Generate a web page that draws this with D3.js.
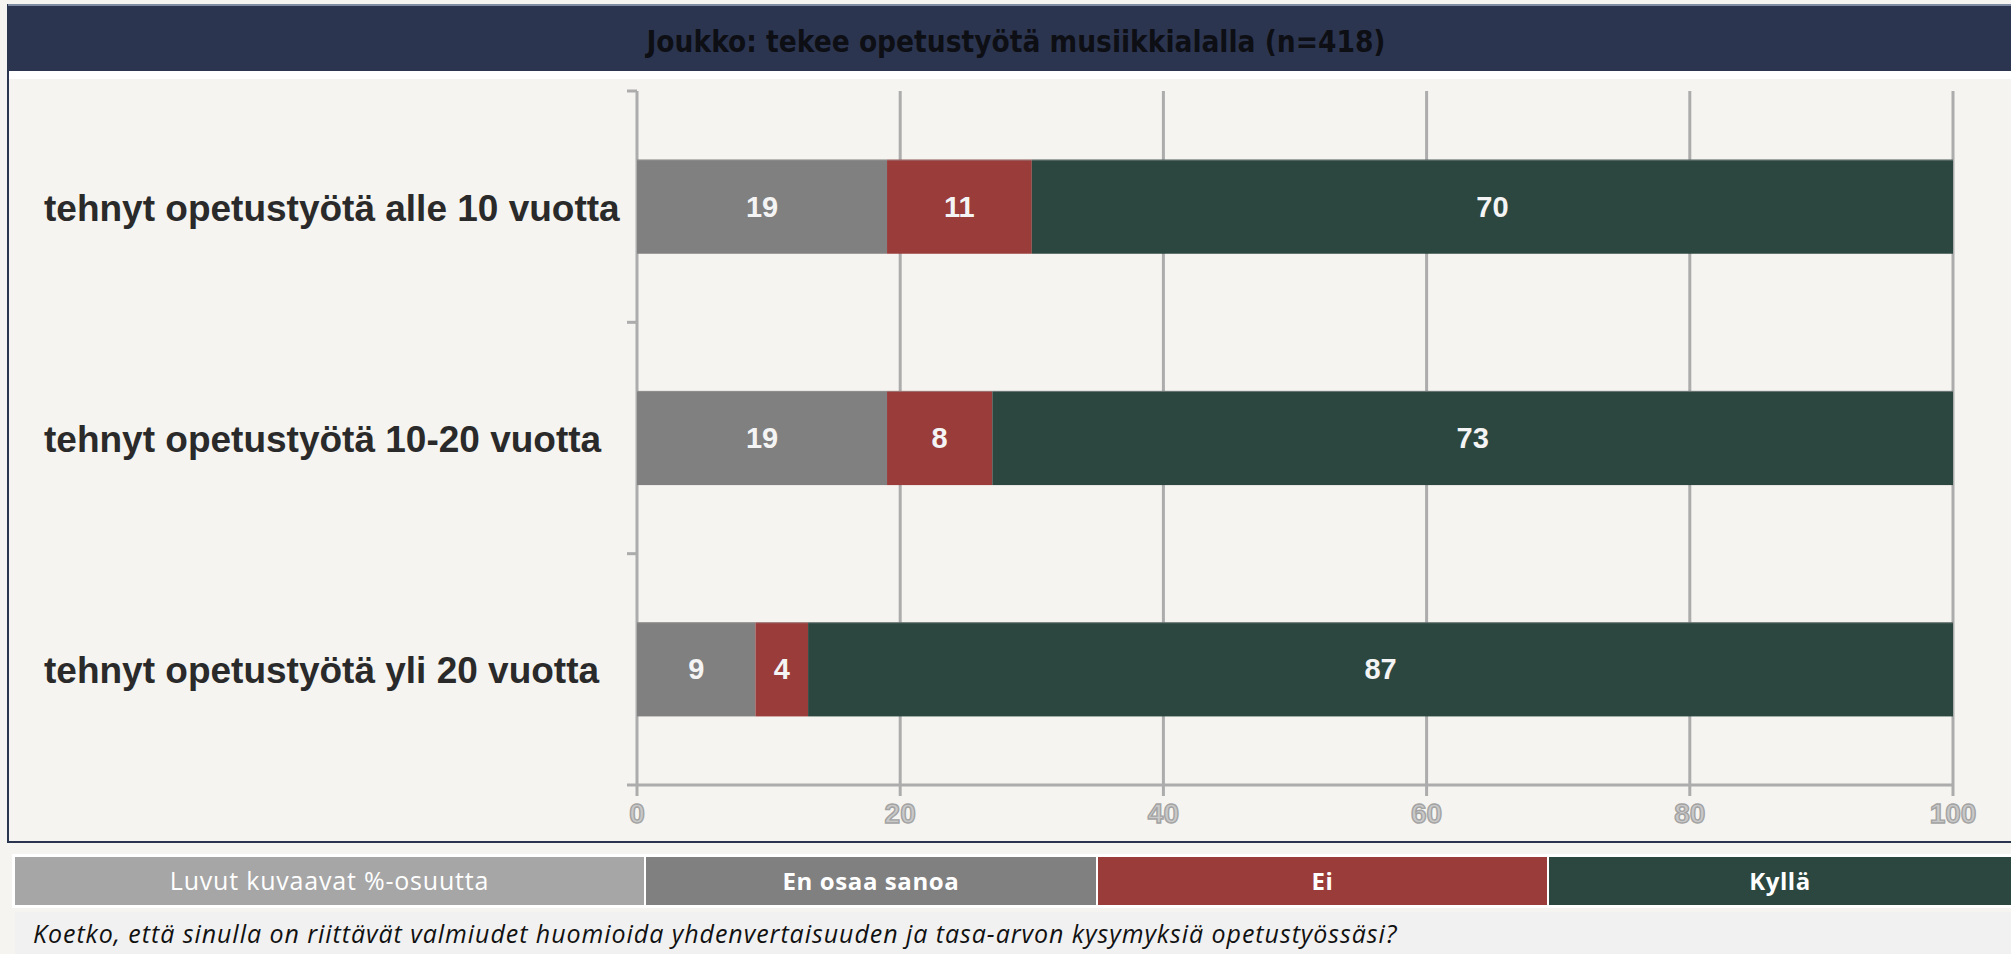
<!DOCTYPE html>
<html><head><meta charset="utf-8">
<script src="https://cdn.jsdelivr.net/npm/d3@7"></script>
<style>
html,body{margin:0;padding:0;background:#f5f4f0;}
svg{display:block;}
</style></head>
<body>
<svg id="chart" width="2011" height="954"></svg>
<script>
const title = "Joukko: tekee opetustyötä musiikkialalla (n=418)";
const categories = ["tehnyt opetustyötä alle 10 vuotta","tehnyt opetustyötä 10-20 vuotta","tehnyt opetustyötä yli 20 vuotta"];
const seriesNames = ["En osaa sanoa","Ei","Kyllä"];
const enOsaaSanoa = [19,19,9];
const ei = [11,8,4];
const kylla = [70,73,87];
const xTicks = [0,20,40,60,80,100];
const legendNote = "Luvut kuvaavat %-osuutta";
const question = "Koetko, että sinulla on riittävät valmiudet huomioida yhdenvertaisuuden ja tasa-arvon kysymyksiä opetustyössäsi?";
const colors = ["#808080","#9a3c3a","#2b4740"];

const svg = d3.select("#chart");
const W = 2011;

// frame + title bar
svg.append("rect").attr("x",0).attr("y",0).attr("width",W).attr("height",954).attr("fill","#f5f4f0");
svg.append("rect").attr("x",8).attr("y",5).attr("width",W).attr("height",837).attr("fill","#f5f4f0").attr("stroke","#2c3550").attr("stroke-width",2);
svg.append("rect").attr("x",8).attr("y",5).attr("width",W).attr("height",66).attr("fill","#2c3550");
svg.append("line").attr("x1",8).attr("x2",W).attr("y1",5).attr("y2",5).attr("stroke","#7f8aa3").attr("stroke-width",2);
svg.append("rect").attr("x",9).attr("y",71).attr("width",W).attr("height",8).attr("fill","#ffffff");
svg.append("text").attr("x",1016).attr("y",52).attr("text-anchor","middle")
  .attr("font-family","'DejaVu Sans Condensed','DejaVu Sans'").attr("font-weight","bold")
  .attr("font-size",29.5).attr("fill","#0d0f14").text(title);

// scales
const x = d3.scaleLinear().domain([0,100]).range([637,1953]);
const y = d3.scaleBand().domain(categories).range([91,785]).paddingInner(0.593).paddingOuter(0.2965);

// gridlines
const g = svg.append("g");
g.selectAll("line.grid").data(xTicks).join("line")
  .attr("x1",d=>x(d)).attr("x2",d=>x(d)).attr("y1",91).attr("y2",796)
  .attr("stroke","#acacac").attr("stroke-width",3);
// x axis baseline
g.append("line").attr("x1",x(0)).attr("x2",x(100)).attr("y1",785).attr("y2",785).attr("stroke","#acacac").attr("stroke-width",3);
// category boundary ticks
const bounds = [91, ...categories.map(c=>y(c)+y.bandwidth()/2+y.step()/2)];
g.selectAll("line.ctick").data(bounds).join("line")
  .attr("x1",x(0)-10).attr("x2",x(0)).attr("y1",d=>d).attr("y2",d=>d)
  .attr("stroke","#acacac").attr("stroke-width",3);

// x tick labels
g.selectAll("text.xt").data(xTicks).join("text")
  .attr("x",d=>x(d)).attr("y",823).attr("text-anchor","middle")
  .attr("font-family","'Liberation Sans',Arial").attr("font-weight","bold").attr("font-size",28)
  .attr("fill","#c9c9c9").attr("stroke","#a3a3a3").attr("stroke-width",1.4)
  .text(d=>d);

// stacked bars
const series = [enOsaaSanoa, ei, kylla];
const rows = categories.map((c,i)=>{
  let acc=0;
  return series.map((s,k)=>{const o={cat:c,k:k,v:s[i],x0:acc,x1:acc+s[i]}; acc+=s[i]; return o;});
}).flat();
const bars = svg.append("g");
bars.selectAll("rect").data(rows).join("rect")
  .attr("x",d=>x(d.x0)).attr("width",d=>x(d.x1)-x(d.x0))
  .attr("y",d=>y(d.cat)).attr("height",y.bandwidth())
  .attr("fill",d=>colors[d.k]);
bars.selectAll("line.top").data(categories).join("line")
  .attr("x1",x(0)).attr("x2",x(100)).attr("y1",d=>y(d)+0.5).attr("y2",d=>y(d)+0.5)
  .attr("stroke","#9a9a9a").attr("stroke-width",1).attr("opacity",0.6);
bars.selectAll("text").data(rows).join("text")
  .attr("x",d=>x((d.x0+d.x1)/2)).attr("y",d=>y(d.cat)+y.bandwidth()/2+10)
  .attr("text-anchor","middle").attr("font-family","'Liberation Sans',Arial").attr("font-weight","bold")
  .attr("font-size",29).attr("fill","#f4f4f4").text(d=>d.v);

// category labels
svg.append("g").selectAll("text").data(categories).join("text")
  .attr("x",44).attr("y",d=>y(d)+y.bandwidth()/2+14)
  .attr("font-family","'Liberation Sans',Arial").attr("font-weight","bold").attr("font-size",37)
  .attr("fill","#2a2a2a").text(d=>d);

// legend row
const legY = 857, legH = 48;
const cells = [{t:legendNote,c:"#a6a6a6",w:"normal",x0:15,x1:644}]
  .concat(seriesNames.map((n,i)=>({t:n,c:colors[i],w:"bold",x0:[646,1098,1549][i],x1:[1096,1547,W][i]})));
const leg = svg.append("g");
leg.append("rect").attr("x",12).attr("y",legY-3).attr("width",W).attr("height",legH+6).attr("fill","#ffffff");
leg.selectAll("rect.cell").data(cells).join("rect")
  .attr("x",d=>d.x0).attr("y",legY).attr("width",d=>d.x1-d.x0).attr("height",legH).attr("fill",d=>d.c);
leg.selectAll("text").data(cells).join("text")
  .attr("x",d=>(d.x0+d.x1)/2).attr("y",legY+33).attr("text-anchor","middle")
  .attr("font-family","'Open Sans',Roboto").attr("font-weight",d=>d.w)
  .attr("font-size",d=>d.w==="bold"?24:25).attr("letter-spacing",d=>d.w==="bold"?0.6:0.8)
  .attr("fill","#ffffff").text(d=>d.t);

// question row
svg.append("rect").attr("x",15).attr("y",912).attr("width",W).attr("height",42).attr("fill","#f1f1f1");
svg.append("text").attr("x",33).attr("y",943)
  .attr("font-family","'Open Sans',Roboto").attr("font-style","italic").attr("font-size",25)
  .attr("letter-spacing",0.95).attr("fill","#111").text(question);
</script>
</body></html>
